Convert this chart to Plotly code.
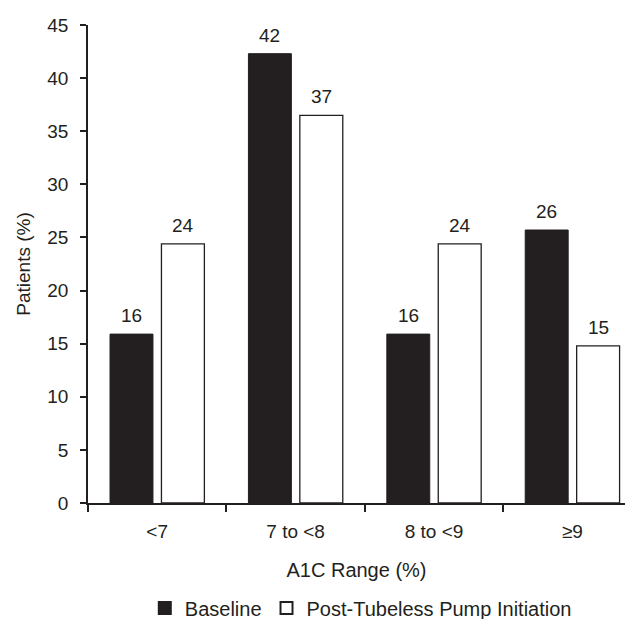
import plotly.graph_objects as go

categories = ["<7", "7 to <8", "8 to <9", "≥9"]
baseline = [15.9, 42.3, 15.9, 25.7]
post = [24.4, 36.5, 24.4, 14.8]
baseline_labels = ["16", "42", "16", "26"]
post_labels = ["24", "37", "24", "15"]

ink = "#231f20"
font_family = "Liberation Sans, Arial, sans-serif"
fs = 19

fig = go.Figure()
fig.add_trace(go.Bar(x=categories, y=baseline, name="Baseline",
                     marker=dict(color=ink, line=dict(color=ink, width=1))))
fig.add_trace(go.Bar(x=categories, y=post, name="Post-Tubeless Pump Initiation",
                     marker=dict(color="white", line=dict(color=ink, width=1.3))))

for cat, v, t in zip(categories, baseline, baseline_labels):
    fig.add_annotation(x=cat, y=v, text=t, showarrow=False, xshift=-25.7, yshift=6,
                       yanchor="bottom", font=dict(size=fs, color=ink, family=font_family))
for cat, v, t in zip(categories, post, post_labels):
    fig.add_annotation(x=cat, y=v, text=t, showarrow=False, xshift=25.7, yshift=6,
                       yanchor="bottom", font=dict(size=fs, color=ink, family=font_family))

fig.update_layout(
    width=617, height=611,
    margin=dict(l=80, r=0, t=17, b=116, autoexpand=False),
    paper_bgcolor="white", plot_bgcolor="white",
    barmode="group", bargap=0.257, bargroupgap=0.165,
    font=dict(family=font_family, size=fs, color=ink),
    showlegend=True,
    legend=dict(orientation="h", xref="paper", x=0.508, xanchor="center",
                yref="container", y=0.018, yanchor="middle",
                font=dict(size=20, color=ink), itemsizing="constant",
                traceorder="normal", itemwidth=30),
)
fig.update_xaxes(
    type="category", range=[-0.5, 3.38], automargin=False,
    showline=True, linecolor=ink, linewidth=1.5,
    ticks="outside", tickson="boundaries", ticklen=7, tickcolor=ink, tickwidth=1.5,
    tickfont=dict(size=fs, color=ink), ticklabelstandoff=10,
    title=dict(text="A1C Range (%)", font=dict(size=20, color=ink), standoff=22),
    showgrid=False, zeroline=False,
)
fig.update_yaxes(
    range=[0, 45], dtick=5, automargin=False,
    showline=True, linecolor=ink, linewidth=1.5,
    ticks="outside", ticklen=6, tickcolor=ink, tickwidth=1.5,
    tickfont=dict(size=fs, color=ink), ticklabelstandoff=8,
    title=dict(text="Patients (%)", font=dict(size=19, color=ink), standoff=12),
    showgrid=False, zeroline=False,
)

fig.write_html("out.html")
